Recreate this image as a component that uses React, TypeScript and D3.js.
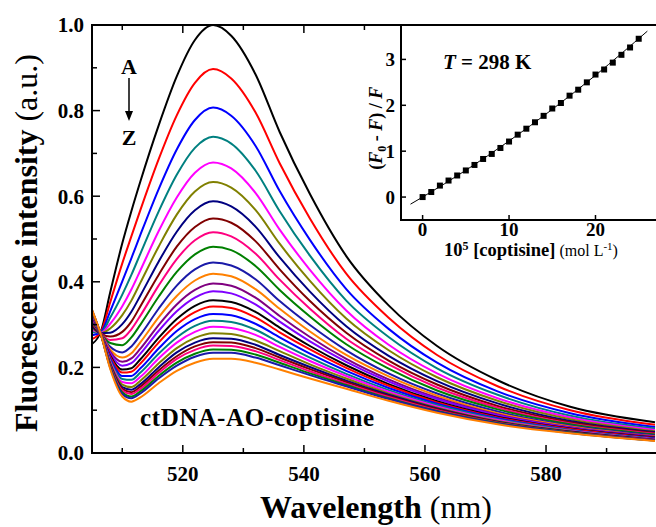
import { useEffect, useRef } from "react"
import * as d3 from "d3"

// emission spectra, A (no coptisine) -> Z (most coptisine)
const wavelengths = [505, 506.5, 508, 510, 511.5, 513, 516, 519, 522, 525, 528, 532, 536, 541, 547, 554, 562, 572, 584, 598]

const specA = [0.255, 0.285, 0.375, 0.49, 0.565, 0.635, 0.765, 0.88, 0.965, 1.0, 0.975, 0.885, 0.75, 0.605, 0.46, 0.345, 0.25, 0.17, 0.108, 0.072]
const specB = [0.266, 0.284, 0.352, 0.443, 0.506, 0.568, 0.686, 0.789, 0.865, 0.897, 0.875, 0.796, 0.677, 0.548, 0.419, 0.316, 0.229, 0.156, 0.1, 0.066]
const specC = [0.275, 0.283, 0.331, 0.401, 0.455, 0.51, 0.616, 0.709, 0.778, 0.807, 0.788, 0.718, 0.612, 0.498, 0.383, 0.29, 0.211, 0.144, 0.093, 0.061]
const specD = [0.282, 0.282, 0.316, 0.37, 0.416, 0.466, 0.564, 0.65, 0.713, 0.739, 0.723, 0.66, 0.565, 0.461, 0.356, 0.271, 0.198, 0.136, 0.087, 0.057]
const specE = [0.288, 0.281, 0.302, 0.343, 0.382, 0.427, 0.518, 0.597, 0.655, 0.679, 0.665, 0.608, 0.522, 0.428, 0.333, 0.253, 0.186, 0.128, 0.083, 0.054]
const specF = [0.293, 0.28, 0.291, 0.322, 0.356, 0.398, 0.482, 0.557, 0.611, 0.633, 0.62, 0.568, 0.489, 0.402, 0.314, 0.24, 0.177, 0.122, 0.079, 0.051]
const specG = [0.297, 0.28, 0.281, 0.301, 0.33, 0.368, 0.447, 0.517, 0.567, 0.588, 0.576, 0.529, 0.457, 0.377, 0.296, 0.227, 0.168, 0.116, 0.075, 0.049]
const specH = [0.301, 0.279, 0.272, 0.283, 0.307, 0.343, 0.416, 0.482, 0.528, 0.548, 0.538, 0.495, 0.429, 0.355, 0.281, 0.216, 0.16, 0.11, 0.072, 0.047]
const specI = [0.305, 0.279, 0.264, 0.268, 0.289, 0.321, 0.391, 0.453, 0.497, 0.516, 0.506, 0.466, 0.405, 0.337, 0.267, 0.207, 0.153, 0.106, 0.069, 0.045]
const specJ = [0.308, 0.278, 0.257, 0.252, 0.27, 0.3, 0.365, 0.423, 0.464, 0.482, 0.474, 0.437, 0.381, 0.319, 0.254, 0.197, 0.146, 0.102, 0.067, 0.043]
const specK = [0.312, 0.278, 0.248, 0.235, 0.249, 0.276, 0.337, 0.391, 0.429, 0.445, 0.438, 0.406, 0.355, 0.299, 0.24, 0.186, 0.139, 0.097, 0.064, 0.041]
const specL = [0.315, 0.278, 0.242, 0.223, 0.233, 0.259, 0.317, 0.367, 0.403, 0.419, 0.413, 0.383, 0.337, 0.284, 0.229, 0.179, 0.134, 0.093, 0.062, 0.039]
const specM = [0.317, 0.277, 0.237, 0.213, 0.221, 0.244, 0.299, 0.347, 0.381, 0.396, 0.391, 0.363, 0.32, 0.271, 0.22, 0.172, 0.129, 0.09, 0.06, 0.038]
const specN = [0.319, 0.277, 0.233, 0.204, 0.21, 0.232, 0.285, 0.331, 0.363, 0.378, 0.373, 0.347, 0.307, 0.261, 0.213, 0.167, 0.126, 0.088, 0.059, 0.037]
const specO = [0.321, 0.277, 0.228, 0.195, 0.198, 0.219, 0.269, 0.313, 0.344, 0.357, 0.353, 0.33, 0.293, 0.25, 0.205, 0.161, 0.121, 0.085, 0.057, 0.036]
const specP = [0.322, 0.277, 0.225, 0.188, 0.19, 0.209, 0.258, 0.3, 0.329, 0.342, 0.339, 0.317, 0.282, 0.242, 0.199, 0.157, 0.118, 0.083, 0.056, 0.035]
const specQ = [0.324, 0.276, 0.221, 0.18, 0.18, 0.198, 0.244, 0.285, 0.313, 0.325, 0.322, 0.302, 0.27, 0.232, 0.192, 0.152, 0.115, 0.081, 0.054, 0.034]
const specR = [0.326, 0.276, 0.217, 0.173, 0.171, 0.188, 0.232, 0.27, 0.297, 0.309, 0.306, 0.288, 0.258, 0.223, 0.185, 0.147, 0.112, 0.079, 0.053, 0.033]
const specS = [0.327, 0.276, 0.214, 0.166, 0.163, 0.178, 0.221, 0.258, 0.283, 0.295, 0.292, 0.276, 0.248, 0.215, 0.18, 0.143, 0.109, 0.077, 0.052, 0.032]
const specT = [0.329, 0.276, 0.211, 0.16, 0.154, 0.169, 0.209, 0.245, 0.269, 0.28, 0.278, 0.263, 0.238, 0.207, 0.174, 0.139, 0.106, 0.075, 0.051, 0.031]
const specU = [0.33, 0.276, 0.208, 0.154, 0.148, 0.161, 0.2, 0.235, 0.258, 0.268, 0.267, 0.253, 0.229, 0.201, 0.169, 0.136, 0.104, 0.073, 0.05, 0.031]
const specV = [0.331, 0.276, 0.206, 0.15, 0.142, 0.155, 0.193, 0.226, 0.249, 0.259, 0.258, 0.245, 0.223, 0.196, 0.166, 0.133, 0.102, 0.072, 0.049, 0.03]
const specW = [0.332, 0.275, 0.204, 0.146, 0.138, 0.15, 0.187, 0.22, 0.241, 0.251, 0.25, 0.238, 0.217, 0.191, 0.162, 0.131, 0.1, 0.071, 0.048, 0.03]
const specX = [0.333, 0.275, 0.202, 0.142, 0.132, 0.144, 0.18, 0.211, 0.232, 0.242, 0.241, 0.23, 0.211, 0.186, 0.159, 0.128, 0.098, 0.07, 0.048, 0.029]
const specY = [0.334, 0.275, 0.2, 0.138, 0.128, 0.139, 0.174, 0.204, 0.225, 0.234, 0.234, 0.223, 0.205, 0.182, 0.156, 0.126, 0.097, 0.069, 0.047, 0.029]
const specZ = [0.335, 0.275, 0.197, 0.132, 0.12, 0.13, 0.163, 0.192, 0.211, 0.22, 0.22, 0.211, 0.195, 0.174, 0.15, 0.122, 0.094, 0.067, 0.046, 0.028]

const spectra = [specA, specB, specC, specD, specE, specF, specG, specH, specI, specJ, specK, specL, specM,
  specN, specO, specP, specQ, specR, specS, specT, specU, specV, specW, specX, specY, specZ]

const lineColors = ["#000000", "#ff0000", "#0000ff", "#008080", "#ff00ff", "#808000", "#000080", "#800000",
  "#ff0080", "#008000", "#1a1aa8", "#ff8000", "#800080", "#8000ff"]

const yMajor = [0, 0.2, 0.4, 0.6, 0.8, 1.0]
const yMinor = [0.1, 0.3, 0.5, 0.7, 0.9]
const xMajor = [520, 540, 560, 580]
const xMinor = [510, 530, 550, 570, 590]

// inset: Stern-Volmer plot
const coptisine = [0, 1, 2, 3, 4, 5, 6, 7, 8, 9, 10, 11, 12, 13, 14, 15, 16, 17, 18, 19, 20, 21, 22, 23, 24, 25]
const quench = [0, 0.11, 0.25, 0.36, 0.47, 0.58, 0.7, 0.83, 0.94, 1.07, 1.21, 1.36, 1.49, 1.63, 1.77, 1.93,
  2.05, 2.21, 2.34, 2.5, 2.67, 2.78, 2.93, 3.1, 3.26, 3.45]
const fitX = [-1.4, 0, 5, 10, 15, 20, 26]
const fitY = [-0.155, 0, 0.584, 1.222, 1.912, 2.654, 3.616]
const insetXTicks = [0, 10, 20]
const insetYTicks = [0, 1, 2, 3]

const serif = "'Liberation Serif', 'Times New Roman', serif"

export default function App() {
  const svgRef = useRef<SVGSVGElement>(null)

  useEffect(() => {
    if (!svgRef.current) return
    const svg = d3.select(svgRef.current)
    svg.selectAll("*").remove()
    svg.attr("font-family", serif)

    const margin = { top: 25, right: 1, bottom: 74, left: 92 }
    const width = 656
    const height = 527

    const x = d3.scaleLinear().domain([505, 598]).range([margin.left, width - margin.right])
    const y = d3.scaleLinear().domain([0, 1]).range([height - margin.bottom, margin.top])

    const defs = svg.append("defs")
    defs.append("clipPath").attr("id", "plot-clip")
      .append("rect")
      .attr("x", margin.left).attr("y", margin.top - 2)
      .attr("width", width - margin.left).attr("height", y(0) - margin.top + 2)

    // spectra
    const line = d3.line<number>()
      .x((_, i) => x(wavelengths[i]))
      .y((d) => y(d))
      .curve(d3.curveMonotoneX)

    svg.append("g")
      .attr("clip-path", "url(#plot-clip)")
      .selectAll("path")
      .data(spectra)
      .enter()
      .append("path")
      .attr("d", (d) => line(d))
      .attr("fill", "none")
      .attr("stroke", (_, i) => lineColors[i % lineColors.length])
      .attr("stroke-width", 2)

    // frame
    const frame = svg.append("g").attr("stroke", "#000").attr("stroke-width", 2).attr("fill", "none")
    frame.append("line").attr("x1", margin.left).attr("x2", margin.left).attr("y1", margin.top).attr("y2", y(0))
    frame.append("line").attr("x1", margin.left - 1).attr("x2", width).attr("y1", y(0)).attr("y2", y(0))
    frame.append("line").attr("x1", margin.left - 1).attr("x2", width).attr("y1", margin.top).attr("y2", margin.top)

    // ticks (inward)
    const tickG = svg.append("g").attr("stroke", "#000").attr("stroke-width", 1.5)
    yMajor.forEach((v) => tickG.append("line").attr("x1", margin.left).attr("x2", margin.left + 8).attr("y1", y(v)).attr("y2", y(v)))
    yMinor.forEach((v) => tickG.append("line").attr("x1", margin.left).attr("x2", margin.left + 5).attr("y1", y(v)).attr("y2", y(v)))
    xMajor.forEach((v) => {
      tickG.append("line").attr("x1", x(v)).attr("x2", x(v)).attr("y1", y(0)).attr("y2", y(0) - 8)
      tickG.append("line").attr("x1", x(v)).attr("x2", x(v)).attr("y1", margin.top).attr("y2", margin.top + 8)
    })
    xMinor.forEach((v) => {
      tickG.append("line").attr("x1", x(v)).attr("x2", x(v)).attr("y1", y(0)).attr("y2", y(0) - 5)
      tickG.append("line").attr("x1", x(v)).attr("x2", x(v)).attr("y1", margin.top).attr("y2", margin.top + 5)
    })

    // tick labels
    svg.append("g")
      .selectAll("text")
      .data(yMajor)
      .enter()
      .append("text")
      .attr("x", margin.left - 8)
      .attr("y", (d) => y(d))
      .attr("dy", "0.35em")
      .attr("text-anchor", "end")
      .attr("font-size", 21)
      .attr("font-weight", "bold")
      .text((d) => d3.format(".1f")(d))

    svg.append("g")
      .selectAll("text")
      .data(xMajor)
      .enter()
      .append("text")
      .attr("x", (d) => x(d))
      .attr("y", y(0) + 28)
      .attr("text-anchor", "middle")
      .attr("font-size", 21)
      .attr("font-weight", "bold")
      .text((d) => d)

    // axis titles
    const xTitle = svg.append("text")
      .attr("x", 376).attr("y", 518)
      .attr("text-anchor", "middle")
      .attr("font-size", 32)
    xTitle.append("tspan").attr("font-weight", "bold").text("Wavelength")
    xTitle.append("tspan").text(" (nm)")

    const yTitle = svg.append("text")
      .attr("transform", `translate(37,${(margin.top + y(0)) / 2 + 4}) rotate(-90)`)
      .attr("text-anchor", "middle")
      .attr("font-size", 32)
    yTitle.append("tspan").attr("font-weight", "bold").text("Fluorescence intensity")
    yTitle.append("tspan").text(" (a.u.)")

    // A -> Z annotation
    svg.append("text").attr("x", 129).attr("y", 74).attr("text-anchor", "middle")
      .attr("font-size", 22).attr("font-weight", "bold").text("A")
    svg.append("text").attr("x", 129).attr("y", 145).attr("text-anchor", "middle")
      .attr("font-size", 22).attr("font-weight", "bold").text("Z")
    svg.append("line").attr("x1", 129).attr("x2", 129).attr("y1", 78).attr("y2", 112)
      .attr("stroke", "#000").attr("stroke-width", 1.5)
    svg.append("path").attr("d", "M125,111 L133,111 L129,121 Z").attr("fill", "#000")

    svg.append("text").attr("x", 140).attr("y", 426)
      .attr("font-size", 25).attr("font-weight", "bold").attr("letter-spacing", 0.7)
      .text("ctDNA-AO-coptisine")

    // ---- inset ----
    const inset = { left: 401, right: 656, top: 25, bottom: 220 }
    const ix = d3.scaleLinear().domain([-2.5, 27]).range([inset.left, inset.right])
    const iy = d3.scaleLinear().domain([-0.5, 3.75]).range([inset.bottom, inset.top])

    const ig = svg.append("g")
    ig.append("rect")
      .attr("x", inset.left).attr("y", inset.top)
      .attr("width", inset.right - inset.left + 2).attr("height", inset.bottom - inset.top)
      .attr("fill", "#fff").attr("stroke", "#000").attr("stroke-width", 2)

    const fitLine = d3.line<number>()
      .x((_, i) => ix(fitX[i]))
      .y((d) => iy(d))
      .curve(d3.curveMonotoneX)
    ig.append("path").attr("d", fitLine(fitY)).attr("fill", "none").attr("stroke", "#000").attr("stroke-width", 1)

    ig.selectAll("rect.pt")
      .data(quench)
      .enter()
      .append("rect")
      .attr("class", "pt")
      .attr("x", (d, i) => ix(coptisine[i]) - 3)
      .attr("y", (d) => iy(d) - 3)
      .attr("width", 6)
      .attr("height", 6)
      .attr("fill", "#000")

    insetYTicks.forEach((v) => {
      ig.append("line").attr("x1", inset.left).attr("x2", inset.left + 5).attr("y1", iy(v)).attr("y2", iy(v))
        .attr("stroke", "#000").attr("stroke-width", 1.5)
      ig.append("text").attr("x", inset.left - 6).attr("y", iy(v)).attr("dy", "0.35em")
        .attr("text-anchor", "end").attr("font-size", 19).attr("font-weight", "bold").text(v)
    })
    insetXTicks.forEach((v) => {
      ig.append("line").attr("x1", ix(v)).attr("x2", ix(v)).attr("y1", inset.bottom).attr("y2", inset.bottom - 5)
        .attr("stroke", "#000").attr("stroke-width", 1.5)
      ig.append("text").attr("x", ix(v)).attr("y", inset.bottom + 16)
        .attr("text-anchor", "middle").attr("font-size", 19).attr("font-weight", "bold").text(v)
    })

    const tLabel = ig.append("text").attr("x", 443).attr("y", 69).attr("font-size", 21).attr("font-weight", "bold")
    tLabel.append("tspan").attr("font-style", "italic").text("T")
    tLabel.append("tspan").text(" = 298 K")

    const ixTitle = ig.append("text").attr("x", 531).attr("y", 256).attr("text-anchor", "middle").attr("font-size", 18.5)
    ixTitle.append("tspan").attr("font-weight", "bold").text("10")
    ixTitle.append("tspan").attr("font-weight", "bold").attr("font-size", 12).attr("dy", -6).text("5")
    ixTitle.append("tspan").attr("font-weight", "bold").attr("dy", 6).text(" [coptisine]")
    ixTitle.append("tspan").attr("font-size", 16).text(" (mol L")
    ixTitle.append("tspan").attr("font-size", 11).attr("dy", -6).text("-1")
    ixTitle.append("tspan").attr("font-size", 16).attr("dy", 6).text(")")

    const iyTitle = ig.append("text")
      .attr("transform", `translate(382,${iy(1.5)}) rotate(-90)`)
      .attr("text-anchor", "middle").attr("font-size", 18).attr("font-weight", "bold")
    iyTitle.append("tspan").text("(")
    iyTitle.append("tspan").attr("font-style", "italic").text("F")
    iyTitle.append("tspan").attr("font-size", 12).attr("dy", 4).text("0")
    iyTitle.append("tspan").attr("dy", -4).text(" - ")
    iyTitle.append("tspan").attr("font-style", "italic").text("F")
    iyTitle.append("tspan").text(") / ")
    iyTitle.append("tspan").attr("font-style", "italic").text("F")
  }, [])

  return (
    <svg
      ref={svgRef}
      width={656}
      height={527}
      style={{ position: "absolute", left: 0, top: 0, background: "#fff" }}
    />
  )
}
